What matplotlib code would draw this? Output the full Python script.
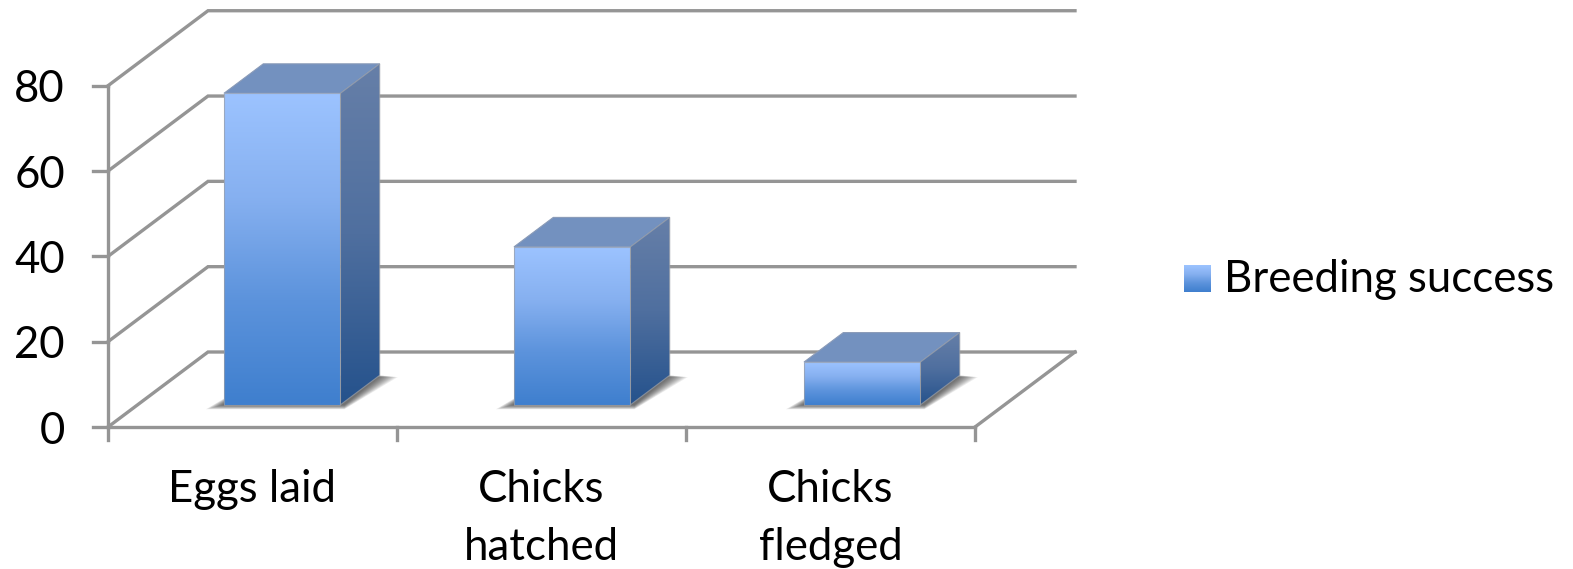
import numpy as np
import matplotlib
matplotlib.use("Agg")
import matplotlib.pyplot as plt
from matplotlib.colors import LinearSegmentedColormap
from matplotlib.patches import Polygon

categories = ["Eggs laid", "Chicks\nhatched", "Chicks\nfledged"]
values = [73, 37, 10]
y_ticks = [0, 20, 40, 60, 80]
series_name = "Breeding success"

W, H = 1573, 569
X0, Y0 = 108, 427      # pixel of the front corner of the floor
XU, YU = 289.0, 4.266  # pixels per category / per value unit
DX, DY = 100 / XU, 75 / YU  # depth offset of the back wall in data units
GRID = "#959595"

plt.rcParams["font.family"] = ["Lato", "DejaVu Sans"]
FS = 31.5

front_cmap = LinearSegmentedColormap.from_list("front", ["#9cc3ff", "#86b0f0", "#5c93dc", "#3f7fce"])
side_cmap = LinearSegmentedColormap.from_list("side", ["#667fa8", "#4f6f9f", "#25528c"])

fig = plt.figure(figsize=(W / 100, H / 100), dpi=100)
ax = fig.add_axes([0, 0, 1, 1])
ax.set_xlim(-X0 / XU, (W - X0) / XU)
ax.set_ylim((Y0 - H) / YU, Y0 / YU)
ax.axis("off")


def proj(x, y, d):
    return (x + d * DX, y + d * DY)


def gradient_poly(pts, cmap, y_bot, y_top, z):
    poly = Polygon(pts, closed=True, fc="none", ec="none", transform=ax.transData)
    ax.add_patch(poly)
    xs = [p[0] for p in pts]
    im = ax.imshow(np.linspace(0, 1, 128).reshape(-1, 1), cmap=cmap, aspect="auto",
                   extent=(min(xs), max(xs), y_bot, y_top), origin="upper", zorder=z,
                   interpolation="bilinear")
    im.set_clip_path(poly)
    ax.add_patch(Polygon(pts, closed=True, fc="none", ec="#9a9fa8", lw=0.8, alpha=0.7, zorder=z + 0.1))


# walls and floor
lw = 2.4
xmax = len(categories)
for t in y_ticks:
    a = proj(0, t, 0)
    b = proj(0, t, 1)
    c = proj(xmax, t, 1)
    ax.plot([a[0], b[0], c[0]], [a[1], b[1], c[1]], color=GRID, lw=lw, zorder=1, solid_joinstyle="miter")
    ax.plot([a[0], a[0] - 15 / XU], [t, t], color=GRID, lw=lw, zorder=1)
    ax.text(-43 / XU, t, str(t), ha="right", va="center_baseline", fontsize=FS, color="black")
a = proj(xmax, 0, 0)
b = proj(xmax, 0, 1)
ax.plot([0, xmax], [0, 0], color=GRID, lw=lw, zorder=1)
ax.plot([a[0], b[0]], [a[1], b[1]], color=GRID, lw=lw, zorder=1)
ax.plot([0, 0], [0, y_ticks[-1]], color=GRID, lw=lw, zorder=1)
for i in range(len(categories) + 1):
    ax.plot([i, i], [0, -13 / YU], color=GRID, lw=lw, zorder=1)

# bars
bar_w = 0.403
d0, d1 = 0.297, 0.69
for i, (cat, v) in enumerate(zip(categories, values)):
    x0 = i * 1.0035 + 0.5 - bar_w / 2
    x1 = x0 + bar_w

    # soft floor shadow, stacked translucent layers
    n = 12
    for k in range(n):
        g = (n - k) * 1.5
        s = [proj(x0 - g / XU, -g * 0.25 / YU, d0), proj(x1 + 4 / XU, -g * 0.25 / YU, d0),
             proj(x1 + g / XU, -g * 0.1 / YU, d1), proj(x0, 0, d1)]
        ax.add_patch(Polygon(s, closed=True, fc="#303030", ec="none", alpha=0.085, zorder=2))

    # top face
    top = [proj(x0, v, d0), proj(x1, v, d0), proj(x1, v, d1), proj(x0, v, d1)]
    ax.add_patch(Polygon(top, closed=True, fc="#7391bf", ec="#8a9bb8", lw=0.8, zorder=3))

    # side face
    side = [proj(x1, 0, d0), proj(x1, 0, d1), proj(x1, v, d1), proj(x1, v, d0)]
    gradient_poly(side, side_cmap, proj(x1, 0, d0)[1], proj(x1, v, d1)[1], 3)

    # front face
    front = [proj(x0, 0, d0), proj(x1, 0, d0), proj(x1, v, d0), proj(x0, v, d0)]
    gradient_poly(front, front_cmap, proj(x0, 0, d0)[1], proj(x0, v, d0)[1], 4)

    # category label, two lines are placed one by one for the wide line gap
    for j, line in enumerate(cat.split("\n")):
        ax.text(i + 0.5, (Y0 - 490 - j * 57) / YU, line, ha="center", va="center", fontsize=FS, color="black")

# legend
sw = fig.add_axes([1184 / W, 1 - 292 / H, 27 / W, 27 / H])
sw.imshow(np.linspace(0, 1, 64).reshape(-1, 1), cmap=front_cmap, aspect="auto", interpolation="bilinear")
sw.axis("off")
fig.text(1224 / W, 1 - 279 / H, series_name, ha="left", va="center", fontsize=FS, color="black")

ax.set_xlim(-X0 / XU, (W - X0) / XU)
ax.set_ylim((Y0 - H) / YU, Y0 / YU)
fig.savefig("out.png", dpi=100)
